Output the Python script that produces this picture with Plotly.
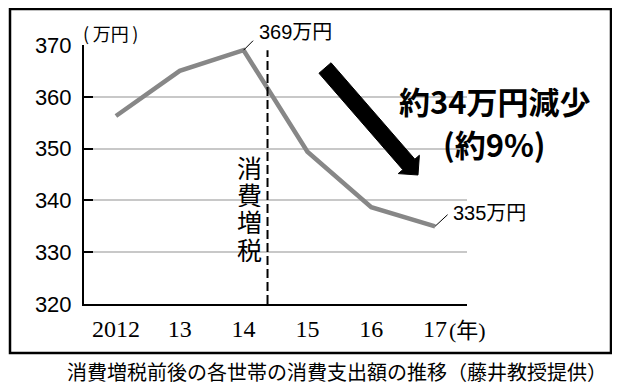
import math
import plotly.graph_objects as go

# ---- data ----
years = [2012, 2013, 2014, 2015, 2016, 2017]
spending = [356.3, 365.0, 369.0, 349.4, 338.7, 335.0]   # 万円
x_tick_text = ["2012", "13", "14", "15", "16", "17"]
y_ticks = [320, 330, 340, 350, 360, 370]
tax_hike_x = 2014.375
peak_label = "369万円"
last_label = "335万円"
unit_label = "(\u2009万円\u2009)"
year_unit = "(年)"
headline = "約34万円減少"
subline = "(約9%)"
vertical_label = ["消", "費", "増", "税"]
caption = "消費増税前後の各世帯の消費支出額の推移（藤井教授提供）"

# the page adds an 8px body margin; work in page pixels and shift
OFF = 8
W_FIG, H_FIG = 620 - OFF, 389 - OFF
L, R, T, B = 84, 467, 45, 304          # plot area in page pixels
PW, PH = R - L, B - T


def px(p):
    return (p - L) / PW


def py(p):
    return (B - p) / PH


SANS = "Liberation Sans, Arial, Noto Sans CJK JP"
CJK = "Noto Sans CJK JP, Liberation Sans"
SERIF = "Liberation Serif, Times New Roman, Noto Sans CJK JP"

fig = go.Figure()
fig.add_trace(go.Scatter(
    x=years, y=spending, mode="lines",
    line=dict(color="#878787", width=4.5),
    hoverinfo="skip", showlegend=False,
))

shapes = []
# outer frame
shapes.append(dict(type="rect", xref="paper", yref="paper",
                   x0=px(10), x1=px(611), y0=py(353), y1=py(9),
                   line=dict(color="black", width=2.5), layer="above"))
# tax hike dashed line
shapes.append(dict(type="line", xref="x", yref="y",
                   x0=tax_hike_x, x1=tax_hike_x, y0=320, y1=369,
                   line=dict(color="black", width=2, dash="9px,4px")))
# big black arrow (decoration), geometry in page pixels
sx, sy, tx, ty = 325, 68, 418, 175
d = math.hypot(tx - sx, ty - sy)
ux, uy = (tx - sx) / d, (ty - sy) / d
nx, ny = uy, -ux
hw, sw = 14, 8
cx, cy = tx - hw * ux, ty - hw * uy
arrow_pts = [
    (sx - sw * nx, sy - sw * ny), (sx + sw * nx, sy + sw * ny),
    (cx + sw * nx, cy + sw * ny), (cx + hw * nx, cy + hw * ny),
    (tx, ty),
    (cx - hw * nx, cy - hw * ny), (cx - sw * nx, cy - sw * ny),
]
path = "M " + " L ".join(f"{px(a):.5f},{py(b):.5f}" for a, b in arrow_pts) + " Z"
shapes.append(dict(type="path", xref="paper", yref="paper", path=path,
                   fillcolor="black", line=dict(color="black", width=1)))

ann = []
# value labels with leader lines
ann.append(dict(x=2014, y=369, xref="x", yref="y", text="", showarrow=True,
                arrowhead=0, ax=11, ay=-11, arrowwidth=1, arrowcolor="black"))
ann.append(dict(x=2014, y=369, xref="x", yref="y", text=peak_label, showarrow=False,
                xanchor="left", yanchor="middle", xshift=13, yshift=18,
                font=dict(family=SANS, size=20, color="black")))
ann.append(dict(x=2017, y=335, xref="x", yref="y", text="", showarrow=True,
                arrowhead=0, ax=14, ay=-13, arrowwidth=1, arrowcolor="black"))
ann.append(dict(x=2017, y=335, xref="x", yref="y", text=last_label, showarrow=False,
                xanchor="left", yanchor="middle", xshift=16, yshift=13,
                font=dict(family=SANS, size=20, color="black")))
# unit labels
ann.append(dict(x=px(81), y=py(33), xref="paper", yref="paper", text=unit_label,
                showarrow=False, xanchor="left", yanchor="middle",
                font=dict(family=CJK, size=18, color="black")))
ann.append(dict(x=px(447), y=py(330), xref="paper", yref="paper", text=year_unit,
                showarrow=False, xanchor="left", yanchor="middle",
                font=dict(family=SERIF, size=22, color="black")))
# vertical label, one character per line as in the reference (tightly stacked)
for ch, yc in zip(vertical_label, [167, 194, 221, 249]):
    ann.append(dict(x=px(249), y=py(yc), xref="paper", yref="paper", text=ch,
                    showarrow=False, xanchor="center", yanchor="middle",
                    height=26, valign="middle",
                    font=dict(family=CJK, size=25, color="black")))
# headline
ann.append(dict(x=px(495), y=py(100), xref="paper", yref="paper", text=headline,
                showarrow=False, xanchor="center", yanchor="middle",
                font=dict(family=CJK, size=31, color="black", weight="bold")))
ann.append(dict(x=px(494), y=py(143), xref="paper", yref="paper", text=subline,
                showarrow=False, xanchor="center", yanchor="middle",
                font=dict(family=CJK, size=31, color="black", weight="bold")))
# caption
ann.append(dict(x=px(337), y=py(371), xref="paper", yref="paper", text=caption,
                showarrow=False, xanchor="center", yanchor="middle",
                font=dict(family=CJK, size=20, color="black")))

fig.update_layout(
    width=W_FIG, height=H_FIG,
    margin=dict(l=L - OFF, r=W_FIG - (R - OFF), t=T - OFF, b=H_FIG - (B - OFF), pad=0),
    paper_bgcolor="white", plot_bgcolor="white",
    shapes=shapes, annotations=ann,
    xaxis=dict(range=[2011.5, 2017.5], tickvals=years, ticktext=x_tick_text,
               showgrid=False, zeroline=False, showline=True, linecolor="black",
               linewidth=2, ticks="", ticklabelstandoff=2,
               tickfont=dict(family=SERIF, size=24, color="black"), fixedrange=True),
    yaxis=dict(range=[320, 370], tickvals=y_ticks, showgrid=True,
               gridcolor="#c8c8c8", gridwidth=1.5, zeroline=False, showline=True,
               linecolor="black", linewidth=2, ticks="inside", ticklen=9,
               tickwidth=2, tickcolor="black", ticklabelstandoff=6,
               tickfont=dict(family=SANS, size=22, color="black"), fixedrange=True),
)

fig.write_html("out.html")
